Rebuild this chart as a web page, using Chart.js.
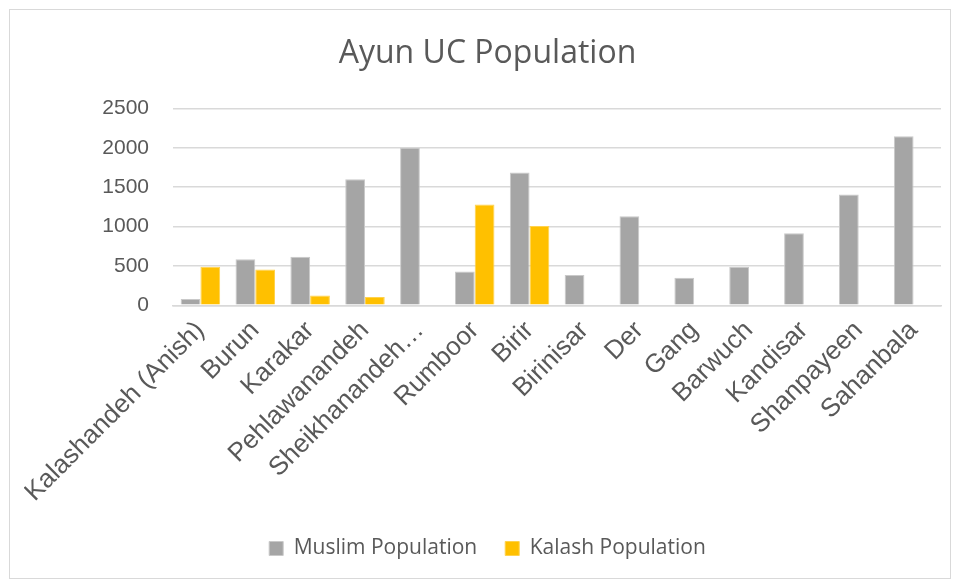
<!DOCTYPE html>
<html>
<head>
<meta charset="utf-8">
<script src="https://cdn.jsdelivr.net/npm/chart.js@4"></script>
<style>
  body { margin: 0; background: #fff; }
  #wrap { position: absolute; left: 9px; top: 9px; width: 942px; height: 570px; box-sizing: border-box;
    border: 1px solid #d9d9d9; padding-left: 14px; }
  #box { position: relative; width: 100%; height: 100%; }
</style>
</head>
<body>
<div id="wrap"><div id="box"><canvas id="myChart"></canvas></div></div>
<script>
const villages = ['Kalashandeh (Anish)', 'Burun', 'Karakar', 'Pehlawanandeh', 'Sheikhanandeh…', 'Rumboor', 'Birir',
  'Birinisar', 'Der', 'Gang', 'Barwuch', 'Kandisar', 'Shanpayeen', 'Sahanbala'];
const muslimPop = [80, 585, 615, 1600, 2000, 430, 1685, 385, 1130, 350, 490, 915, 1405, 2145];
const kalashPop = [490, 455, 125, 105, 0, 1280, 1005, 0, 0, 0, 0, 0, 0, 0];
const yTicks = [0, 500, 1000, 1500, 2000, 2500];

const ctx = document.getElementById('myChart');

Chart.defaults.color = '#595959';
Chart.defaults.font.family = '"Liberation Sans", Arial, sans-serif';

new Chart(ctx, {
  type: 'bar',
  data: {
    labels: villages,
    datasets: [{
      label: 'Muslim Population',
      data: muslimPop,
      backgroundColor: '#a5a5a5',
      borderColor: '#c9c9c9',
      borderWidth: 1,
      categoryPercentage: 0.72,
      barPercentage: 1,
    }, {
      label: 'Kalash Population',
      data: kalashPop,
      backgroundColor: '#ffc000',
      borderColor: '#ffd24d',
      borderWidth: 1,
      categoryPercentage: 0.72,
      barPercentage: 1,
    }],
  },
  options: {
    responsive: true,
    maintainAspectRatio: false,
    animation: false,
    layout: { padding: { left: 10, right: 9, top: 0, bottom: 9 } },
    scales: {
      y: {
        min: 0,
        max: 2500,
        afterBuildTicks: axis => { axis.ticks = yTicks.map(v => ({ value: v })); },
        grid: { color: '#d9d9d9', lineWidth: 1.5, drawTicks: false },
        border: { display: false },
        ticks: { font: { size: 21 }, padding: 24, callback: v => String(v) },
      },
      x: {
        grid: { display: false },
        border: { color: '#d9d9d9', width: 1.5 },
        ticks: { font: { size: 26 }, maxRotation: 45, minRotation: 45, autoSkip: false, padding: 2 },
      },
    },
    plugins: {
      title: {
        display: true,
        text: 'Ayun UC Population',
        font: { size: 32, weight: 'normal', family: '"Open Sans", sans-serif' },
        color: '#595959',
        padding: { top: 25, bottom: 35 },
      },
      legend: {
        position: 'bottom',
        labels: { boxWidth: 14, boxHeight: 14, font: { size: 21, family: '"Open Sans", sans-serif' }, padding: 28 },
      },
      tooltip: { enabled: false },
    },
  }
});
</script>
</body>
</html>
